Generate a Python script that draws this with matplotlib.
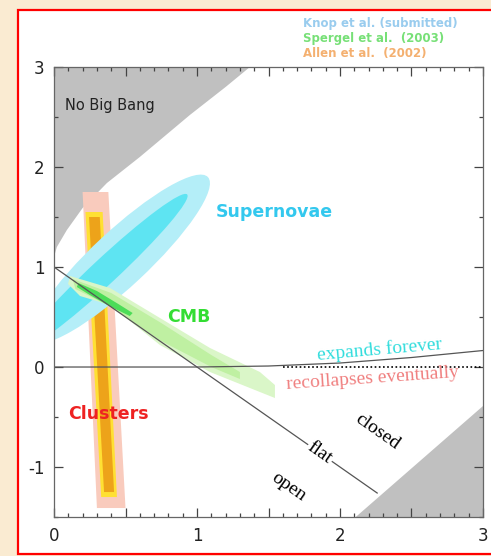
import matplotlib
matplotlib.use("Agg")
import matplotlib.pyplot as plt
from matplotlib.patches import Ellipse, Polygon, Rectangle
from matplotlib.ticker import MultipleLocator, FuncFormatter
from matplotlib.transforms import Affine2D

plt.rcParams["axes.unicode_minus"] = False

# --- forbidden regions (Omega_M, Omega_Lambda) ---
no_big_bang_om = [0.0, 0.02, 0.09, 0.20, 0.37, 0.60, 0.95, 1.20, 1.37]
no_big_bang_ol = [1.10, 1.20, 1.37, 1.59, 1.84, 2.10, 2.52, 2.80, 3.00]
young_om = [2.11, 3.0, 3.0]
young_ol = [-1.5, -0.39, -1.5]

# --- expands forever / recollapses boundary ---
recoll_om = [0.0, 1.0, 1.5, 2.0, 2.5, 3.0]
recoll_ol = [0.0, 0.0, 0.01, 0.04, 0.095, 0.165]

# flat universe line, Omega_M + Omega_Lambda = 1
flat_om = [0.0, 2.26]
flat_ol = [1.0, -1.26]

# --- supernova contours: centre, full length, full width (x units), angle ---
sn_center = [(0.462, 1.08), (0.357, 0.96)]
sn_length = [1.68, 1.57]
sn_width = [0.39, 0.18]
sn_angle = [43, 43]

# --- CMB band ---
cmb_outer = [(0.112, 0.91), (0.392, 0.79), (0.741, 0.49), (1.091, 0.19), (1.44, -0.05),
             (1.545, -0.18), (1.545, -0.31), (1.44, -0.25), (1.091, -0.05), (0.741, 0.22),
             (0.392, 0.62), (0.182, 0.71), (0.098, 0.83)]
cmb_mid = [(0.13, 0.88), (0.40, 0.74), (0.75, 0.44), (1.10, 0.12), (1.30, -0.05),
           (1.30, -0.12), (1.10, 0.00), (0.75, 0.26), (0.40, 0.60), (0.15, 0.78)]
cmb_inner = [(0.17, 0.84), (0.30, 0.76), (0.45, 0.63), (0.55, 0.54), (0.53, 0.51),
             (0.40, 0.60), (0.25, 0.72), (0.16, 0.80)]

# --- cluster bands (left/right edges at top and bottom) ---
cl_pink = [(0.20, 1.75), (0.38, 1.75), (0.50, -1.41), (0.30, -1.41)]
cl_yellow = [(0.22, 1.55), (0.34, 1.55), (0.44, -1.30), (0.33, -1.30)]
cl_orange = [(0.245, 1.50), (0.32, 1.50), (0.42, -1.25), (0.35, -1.25)]

BEIGE, GRAY, LINE = "#faebd2", "#c0c0c0", "#555555"
CYAN_OUT, CYAN_IN = "#b4eef8", "#5ee4f2"
GREEN_OUT, GREEN_MID, GREEN_IN = "#daf6c8", "#bff0a2", "#4cdc58"
PINK, YELLOW, ORANGE = "#f9cbbd", "#ffe033", "#eda31a"

fig = plt.figure(figsize=(4.91, 5.56), dpi=100, facecolor=BEIGE)
fig.patches.append(Rectangle((0.0367, 0.0036), 1.0, 0.9784, transform=fig.transFigure,
                             facecolor="white", edgecolor="red", lw=1.6, zorder=-1))
ax = fig.add_axes([0.110, 0.0701, 0.8737, 0.8094])
ax.set_xlim(0, 3)
ax.set_ylim(-1.5, 3)

# pixels per Omega_M unit over pixels per Omega_Lambda unit, so ellipses keep their shape
pos = ax.get_position()
r = (pos.width * 491 / 3) / (pos.height * 556 / 4.5)

ax.fill(no_big_bang_om + [0.0], no_big_bang_ol + [3.0], color=GRAY, lw=0, zorder=1)
ax.fill(young_om, young_ol, color=GRAY, lw=0, zorder=1)

for pts, col in [(cl_pink, PINK), (cl_yellow, YELLOW), (cl_orange, ORANGE)]:
    ax.add_patch(Polygon(pts, closed=True, facecolor=col, lw=0, zorder=2))

for (cx, cy), L, W, a, col in zip(sn_center, sn_length, sn_width, sn_angle, [CYAN_OUT, CYAN_IN]):
    tr = Affine2D().scale(1, r).translate(cx, cy) + ax.transData
    ax.add_patch(Ellipse((0, 0), L, W, angle=a, transform=tr, facecolor=col, lw=0, zorder=3))

for pts, col in [(cmb_outer, GREEN_OUT), (cmb_mid, GREEN_MID), (cmb_inner, GREEN_IN)]:
    ax.add_patch(Polygon(pts, closed=True, facecolor=col, lw=0, zorder=4))

ax.plot(flat_om, flat_ol, color=LINE, lw=0.9, zorder=5)
ax.plot(recoll_om, recoll_ol, color=LINE, lw=0.9, zorder=5)
ax.plot([1.6, 3.0], [0.0, 0.0], color="black", lw=1.2, ls=(0, (1, 1.5)), zorder=5)

# labels
ax.text(0.077, 2.62, "No Big Bang", fontsize=10.5, color="#222222", va="center", zorder=6)
ax.text(1.13, 1.55, "Supernovae", fontsize=12.5, fontweight="bold", color="#33c8ee",
        va="center", zorder=6)
ax.text(0.79, 0.50, "CMB", fontsize=12.5, fontweight="bold", color="#33dd33",
        va="center", zorder=6)
ax.text(0.10, -0.47, "Clusters", fontsize=12.5, fontweight="bold", color="#ee2222",
        va="center", zorder=6)

serif = dict(family="Liberation Serif", fontsize=14, ha="center", va="center", zorder=6)
ax.text(2.28, 0.17, "expands forever", color="#33dddd", rotation=5, **serif)
ax.text(2.23, -0.11, "recollapses eventually", color="#f08080", rotation=4, **serif)
ax.text(2.26, -0.65, "closed", color="black", rotation=-35, **serif)
ax.text(1.86, -0.86, "flat", color="black", rotation=-35,
        bbox=dict(facecolor="white", edgecolor="none", pad=1), **serif)
ax.text(1.64, -1.20, "open", color="black", rotation=-35, **serif)

refs = [("Knop et al. (submitted)", "#99ccee"), ("Spergel et al.  (2003)", "#77e077"),
        ("Allen et al.  (2002)", "#f4b070")]
for i, (s, c) in enumerate(refs):
    fig.text(0.617, 0.9586 - i * 0.0277, s, fontsize=8.5, fontweight="bold", color=c, va="center")

# axes cosmetics
ax.xaxis.set_major_locator(MultipleLocator(0.5))
ax.xaxis.set_minor_locator(MultipleLocator(0.1))
ax.yaxis.set_major_locator(MultipleLocator(1))
ax.yaxis.set_minor_locator(MultipleLocator(0.5))
ax.xaxis.set_major_formatter(FuncFormatter(lambda v, _: f"{v:.0f}" if abs(v - round(v)) < 1e-6 else ""))
ax.yaxis.set_major_formatter(FuncFormatter(lambda v, _: f"{v:.0f}"))
ax.tick_params(which="both", direction="in", top=True, right=True, color="#444444", width=0.9)
ax.tick_params(which="major", length=6.5, pad=7, labelsize=12, labelcolor="#222222")
ax.tick_params(which="minor", length=3)
for s in ax.spines.values():
    s.set_color("#666666")
    s.set_linewidth(0.9)
    s.set_zorder(7)

fig.savefig("out.png", dpi=100, facecolor=BEIGE)
